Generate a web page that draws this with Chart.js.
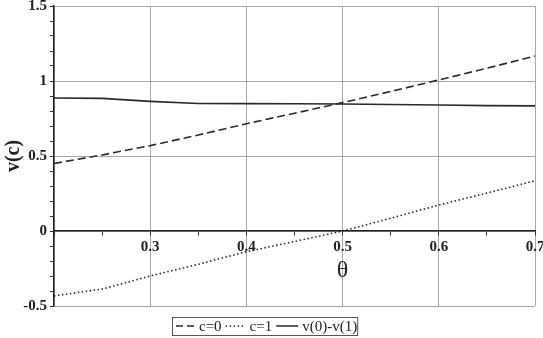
<!DOCTYPE html>
<html>
<head>
    <title>v(c)</title>
    <meta charset="utf-8" />
    <script src="https://cdn.jsdelivr.net/npm/chart.js@4.4.0/dist/chart.umd.min.js"></script>
    <style>
        body { margin: 0; background: #fff; }
    </style>
</head>
<body>
<div style="width: 543px; height: 338px">
    <canvas id="joonis"></canvas>
</div>
<script>
    // andmed (loetud pildilt)
    const theta = [0.2, 0.25, 0.3, 0.35, 0.4, 0.45, 0.5, 0.55, 0.6, 0.65, 0.7];
    const c0 = [0.45, 0.507, 0.569, 0.64, 0.715, 0.785, 0.856, 0.93, 1.007, 1.085, 1.167];
    const c1 = [-0.433, -0.387, -0.30, -0.222, -0.138, -0.07, 0.0, 0.085, 0.173, 0.253, 0.335];
    const vahe = [0.887, 0.884, 0.864, 0.85, 0.849, 0.848, 0.847, 0.843, 0.84, 0.836, 0.834];
    const seriesNames = ['c=0', 'c=1', 'v(0)-v(1)'];
    const xTitle = 'θ';
    const yTitle = 'v(c)';

    const serif = 'Liberation Serif';
    const joon = '#2a2a2a';
    const vorgu = '#a8a8a8';

    function punktid(arr) {
        return theta.map((t, i) => ({x: t, y: arr[i]}));
    }
    function kordne(v, s) {
        return Math.abs(v / s - Math.round(v / s)) < 1e-6;
    }

    const legendStyles = [
        {dash: [7, 4], width: 1.5},
        {dash: [1.5, 2.5], width: 1.5},
        {dash: [], width: 1.5}
    ];

    const lisad = {
        id: 'lisad',
        afterDraw(chart) {
            const ctx = chart.ctx;
            const xs = chart.scales.x;
            ctx.save();
            // theta silt
            ctx.fillStyle = '#222';
            ctx.font = '24px "' + serif + '"';
            ctx.textAlign = 'center';
            ctx.textBaseline = 'middle';
            ctx.fillText(xTitle, xs.getPixelForValue(0.5), 271);

            // legend kastis
            ctx.font = '15px "' + serif + '"';
            ctx.textAlign = 'left';
            const lineLen = [19, 20, 22];
            const gap = 4;
            let x = 176;
            const y = 326;
            let widths = seriesNames.map(n => ctx.measureText(n).width);
            let total = 0;
            for (let i = 0; i < 3; i++) total += lineLen[i] + gap + widths[i] + 4;
            ctx.strokeStyle = '#555';
            ctx.lineWidth = 1;
            ctx.setLineDash([]);
            ctx.strokeRect(172.5, 317.5, total, 18);
            for (let i = 0; i < 3; i++) {
                ctx.beginPath();
                ctx.setLineDash(legendStyles[i].dash);
                ctx.lineWidth = legendStyles[i].width;
                ctx.strokeStyle = joon;
                ctx.moveTo(x, y);
                ctx.lineTo(x + lineLen[i], y);
                ctx.stroke();
                x += lineLen[i] + gap;
                ctx.fillText(seriesNames[i], x, y + 1);
                x += widths[i] + 4;
            }
            ctx.restore();
        }
    };

    new Chart(document.getElementById('joonis'), {
        type: 'line',
        data: {
            datasets: [
                {label: seriesNames[0], data: punktid(c0), borderColor: joon, borderWidth: 1.6, borderDash: [8, 4], pointRadius: 0},
                {label: seriesNames[1], data: punktid(c1), borderColor: joon, borderWidth: 1.6, borderDash: [1.5, 2.5], pointRadius: 0},
                {label: seriesNames[2], data: punktid(vahe), borderColor: joon, borderWidth: 1.6, pointRadius: 0}
            ]
        },
        options: {
            responsive: true,
            maintainAspectRatio: false,
            animation: false,
            layout: {padding: {left: 0, right: 8, top: 6, bottom: 32}},
            plugins: {legend: {display: false}, tooltip: {enabled: false}},
            scales: {
                x: {
                    type: 'linear',
                    position: {y: 0},
                    min: 0.2,
                    max: 0.7,
                    afterFit: s => { s.paddingLeft = 0; s.paddingRight = 0; },
                    ticks: {
                        stepSize: 0.05,
                        autoSkip: false,
                        maxRotation: 0,
                        padding: 3,
                        color: '#222',
                        font: {family: serif, size: 15, weight: 'bold'},
                        callback: v => (kordne(v, 0.1) && v > 0.25) ? v.toFixed(1) : ''
                    },
                    grid: {
                        color: c => (c.tick && kordne(c.tick.value, 0.1)) ? vorgu : 'rgba(0,0,0,0)',
                        tickColor: '#333',
                        tickLength: 4,
                        lineWidth: 1
                    },
                    border: {color: '#222', width: 1.5}
                },
                y: {
                    min: -0.5,
                    max: 1.5,
                    afterFit: s => { s.width = 54; s.paddingTop = 0; s.paddingBottom = 0; },
                    ticks: {
                        stepSize: 0.1,
                        autoSkip: false,
                        padding: 3,
                        color: '#222',
                        font: {family: serif, size: 15, weight: 'bold'},
                        callback: v => kordne(v, 0.5) ? String(Math.round(v * 10) / 10) : ''
                    },
                    grid: {
                        color: c => (c.tick && kordne(c.tick.value, 0.5)) ? vorgu : 'rgba(0,0,0,0)',
                        tickColor: '#333',
                        tickLength: 4,
                        lineWidth: 1
                    },
                    border: {color: '#222', width: 1.5},
                    title: {
                        display: true,
                        text: yTitle,
                        color: '#222',
                        padding: {top: 2, bottom: 0},
                        font: {family: serif, size: 20, weight: 'bold'}
                    }
                }
            }
        },
        plugins: [lisad]
    });
</script>
</body>
</html>
